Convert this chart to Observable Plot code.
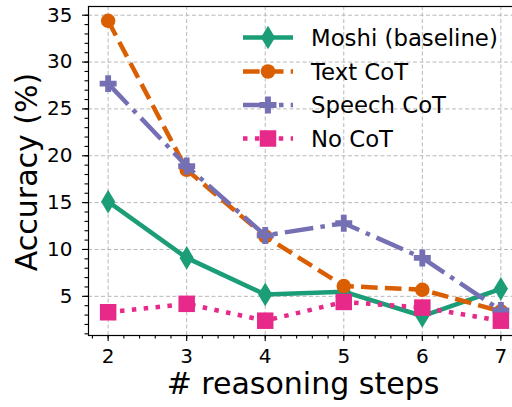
<!DOCTYPE html>
<html><head><meta charset="utf-8">
<script src="https://cdn.jsdelivr.net/npm/d3@7"></script>
<script src="https://cdn.jsdelivr.net/npm/@observablehq/plot@0.6"></script>
<style>
body{margin:0;background:#fff;}
#chart svg{font-family:"DejaVu Sans",sans-serif;color:#000;background:#fff;}
</style>
</head><body><div id="chart"></div>
<script>
// ---- data ----
const steps = [2, 3, 4, 5, 6, 7];
const moshi = [15.1, 9.1, 5.2, 5.5, 2.9, 5.8];
const textCot = [34.4, 18.5, 11.4, 6.1, 5.7, 3.4];
const speechCot = [27.7, 18.9, 11.5, 12.8, 9.1, 3.5];
const noCot = [3.3, 4.2, 2.4, 4.4, 3.8, 2.4];
const seriesNames = ["Moshi (baseline)", "Text CoT", "Speech CoT", "No CoT"];
const seriesColors = ["#1b9e77", "#d95f02", "#7570b3", "#e7298a"];
const yTicks = [5, 10, 15, 20, 25, 30, 35];
const yMinorTicks = d3.range(1, 36, 1);
const xMinorTicks = d3.range(1.8, 7.3, 0.2).map(v => +v.toFixed(1));
const yLabel = "Accuracy (%)";
const xLabel = "# reasoning steps";

// ---- styles ----
const LW = 4.5;
const dashes = ["none", `${3.7*LW},${1.6*LW}`, `${6.4*LW},${1.6*LW},${1*LW},${1.6*LW}`, `${1*LW},${1.65*LW}`];
const thinDiamond = {draw(ctx, size){const r=Math.sqrt(size/Math.PI);const h=r*1.58,w=r*0.95;ctx.moveTo(0,-h);ctx.lineTo(w,0);ctx.lineTo(0,h);ctx.lineTo(-w,0);ctx.closePath();}};
const circleSym = {draw(ctx, size){const r=Math.sqrt(size/Math.PI)*0.97;ctx.moveTo(r,0);ctx.arc(0,0,r,0,2*Math.PI);ctx.closePath();}};
const plusSym = {draw(ctx, size){const r=Math.sqrt(size/Math.PI);const h=r*1.13,t=r*0.39;
  const p=[[-t,-h],[t,-h],[t,-t],[h,-t],[h,t],[t,t],[t,h],[-t,h],[-t,t],[-h,t],[-h,-t],[-t,-t]];
  ctx.moveTo(p[0][0],p[0][1]);for(let i=1;i<p.length;i++)ctx.lineTo(p[i][0],p[i][1]);ctx.closePath();}};
const squareSym = {draw(ctx, size){const r=Math.sqrt(size/Math.PI);const h=r*1.1;ctx.rect(-h,-h,2*h,2*h);}};
const symbols = [thinDiamond, circleSym, plusSym, squareSym];

const seriesValues = [moshi, textCot, speechCot, noCot];
const data = seriesValues.map((vals, si) => steps.map((s, i) => ({series: seriesNames[si], step: s, acc: vals[i]})));

const marks = [
  Plot.gridY(yTicks, {stroke: "#b8b8b8", strokeOpacity: 1, strokeWidth: 1, strokeDasharray: "4,2.5"}),
  Plot.gridX(steps, {stroke: "#b8b8b8", strokeOpacity: 1, strokeWidth: 1, strokeDasharray: "4,2.5"}),
  Plot.axisY(yMinorTicks, {tickSize: 3.5, text: null, strokeWidth: 1.1}),
  Plot.axisY(yTicks, {tickSize: 6, tickPadding: 10, fontSize: 20, label: null, strokeWidth: 1.1}),
  Plot.axisX(xMinorTicks, {tickSize: 3.5, text: null, strokeWidth: 1.1}),
  Plot.axisX(steps, {tickSize: 6, tickPadding: 7, fontSize: 20, label: null, strokeWidth: 1.1}),
];
data.forEach((d, si) => {
  marks.push(Plot.line(d, {x: "step", y: "acc", stroke: seriesColors[si], strokeWidth: LW, strokeDasharray: dashes[si], strokeLinecap: "butt", strokeLinejoin: "round"}));
  marks.push(Plot.dot(d, {x: "step", y: "acc", fill: seriesColors[si], stroke: "none", r: 7.5, symbol: symbols[si]}));
});
marks.push(Plot.frame({stroke: "#000", strokeWidth: 1.2}));

const chart = Plot.plot({
  width: 512,
  height: 407,
  marginLeft: 88, marginRight: -8, marginTop: 6, marginBottom: 72,
  style: {fontFamily: "DejaVu Sans", color: "#000", background: "#fff"},
  x: {domain: [1.75, 7.25], range: [88, 520], label: null},
  y: {domain: [0.82, 35.93], range: [335, 6], label: null},
  marks
});
document.getElementById("chart").appendChild(chart);

// axis labels and legend drawn into the same SVG
const svg = d3.select(chart);
svg.append("text").attr("x", 303).attr("y", 394).attr("text-anchor", "middle")
  .attr("font-size", 30).attr("fill", "#000").text(xLabel);
svg.append("text").attr("transform", "translate(37,172) rotate(-90)").attr("text-anchor", "middle")
  .attr("font-size", 30).attr("fill", "#000").text(yLabel);

const legendRows = [37.5, 71.5, 105, 138.5];
const lg = svg.append("g").attr("text-anchor", "start");
seriesNames.forEach((name, si) => {
  const y = legendRows[si];
  lg.append("line").attr("x1", 243).attr("x2", 293).attr("y1", y).attr("y2", y)
    .attr("stroke", seriesColors[si]).attr("stroke-width", LW)
    .attr("stroke-dasharray", dashes[si]).attr("stroke-linecap", "butt");
  lg.append("path").attr("transform", `translate(268,${y})`)
    .attr("d", d3.symbol(symbols[si], 7.5*7.5*Math.PI)()).attr("fill", seriesColors[si]);
  lg.append("text").attr("x", 311).attr("y", y).attr("dy", "0.36em").attr("text-anchor", "start")
    .attr("font-size", 22.8).attr("fill", "#000").text(name);
});
</script>
</body></html>
